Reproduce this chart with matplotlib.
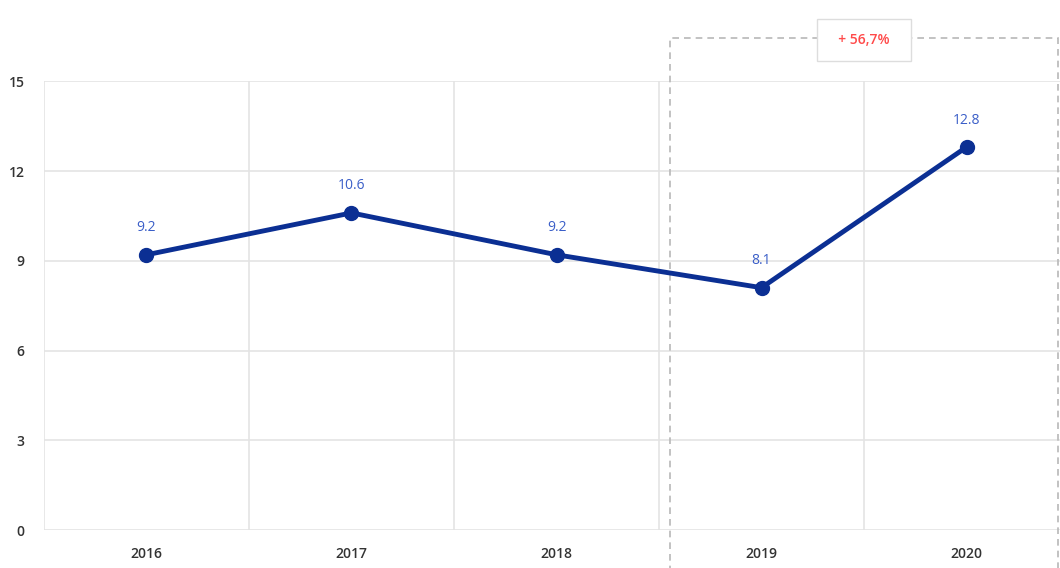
import matplotlib
matplotlib.use("Agg")
import matplotlib.pyplot as plt
from matplotlib.patches import Rectangle

# данные
years = ["2016", "2017", "2018", "2019", "2020"]
values = [9.2, 10.6, 9.2, 8.1, 12.8]
y_ticks = [0, 3, 6, 9, 12, 15]
growth_label = "+ 56,7%"

plt.rcParams['font.family'] = ['Open Sans', 'DejaVu Sans']

fig = plt.figure(figsize=(10.6, 5.68), dpi=100)
ax = fig.add_axes([0.0415, 0.0669, 0.967, 0.790])

xs = list(range(len(years)))
line_color = '#0b2f93'
ax.plot(xs, values, color=line_color, linewidth=3.5, marker='o', markersize=10,
        solid_capstyle='round', zorder=3)

# подписи значений
for x, v in zip(xs, values):
    ax.annotate('{:.1f}'.format(v), (x, v), xytext=(0, 14), textcoords='offset points',
                ha='center', va='bottom', color='#3a5ec8', fontsize=10)

ax.set_xlim(-0.5, len(years) - 0.5)
ax.set_ylim(0, 15)
ax.set_yticks(y_ticks)
ax.set_xticks(xs)
ax.set_xticklabels(years)

# сетка
grid_color = '#e4e4e4'
for y in y_ticks:
    ax.axhline(y, color=grid_color, linewidth=1.2, zorder=1)
for b in range(len(years)):
    ax.axvline(b - 0.5, color=grid_color, linewidth=1.2, zorder=1)

for s in ax.spines.values():
    s.set_visible(False)
ax.tick_params(length=0, labelsize=10, colors='#333333', pad=12)
ax.tick_params(axis='y', pad=14)
for lbl in ax.get_xticklabels() + ax.get_yticklabels():
    lbl.set_fontweight('semibold')

# пунктирная рамка 2019-2020
rect = Rectangle((2.556, -2.0), 4.444 - 2.556, 16.44 + 2.0, fill=False,
                 edgecolor='#b8b8b8', linestyle=(0, (4, 3)), linewidth=1.2,
                 clip_on=False, zorder=2)
ax.add_patch(rect)

# плашка с приростом
ax.text(3.5, 16.38, '  ' + growth_label + '  ', ha='center', va='center', color='#ff4a4a',
        fontsize=10, fontweight='semibold', zorder=5, clip_on=False,
        bbox=dict(boxstyle='square,pad=1.0', facecolor='white', edgecolor='#dddddd',
                  linewidth=1))

fig.savefig('out.png', dpi=100, facecolor='white')
